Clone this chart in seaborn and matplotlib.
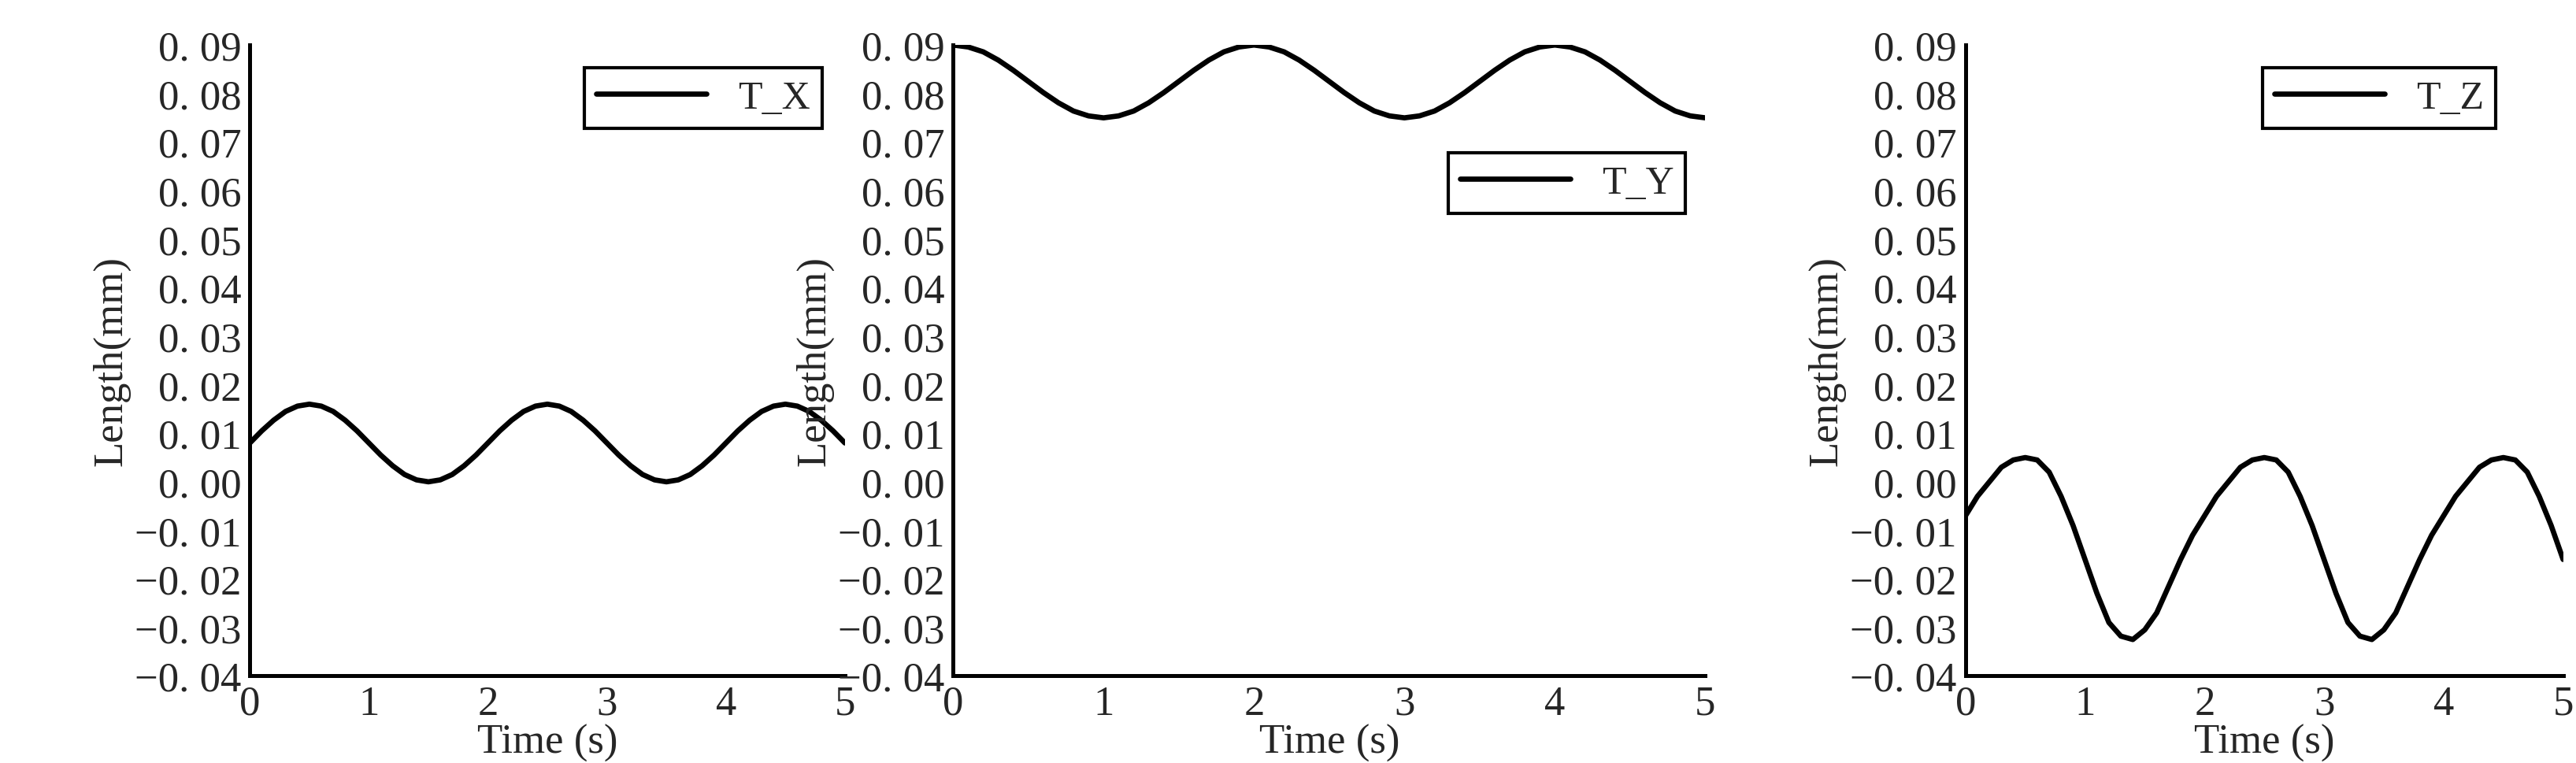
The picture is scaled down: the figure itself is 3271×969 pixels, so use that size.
import numpy as np
import pandas as pd
import matplotlib
matplotlib.use("Agg")
import matplotlib.pyplot as plt
import seaborn as sns
from matplotlib.ticker import FuncFormatter, MultipleLocator

# --- data (0.1 s steps, 0..5 s) ---
time_s = [round(0.1 * i, 1) for i in range(51)]

tx_period = [0.0080, 0.0105, 0.0127, 0.0145, 0.0156, 0.0160, 0.0156, 0.0145, 0.0127, 0.0105,
             0.0080, 0.0055, 0.0033, 0.0015, 0.0004, 0.0000, 0.0004, 0.0015, 0.0033, 0.0055]
ty_period = [0.0900, 0.0896, 0.0886, 0.0869, 0.0848, 0.0825, 0.0802, 0.0781, 0.0764, 0.0754,
             0.0750, 0.0754, 0.0764, 0.0781, 0.0802, 0.0825, 0.0848, 0.0869, 0.0886, 0.0896]
tz_period = [-0.0070, -0.0030, 0.0000, 0.0030, 0.0045, 0.0050, 0.0045, 0.0020, -0.0030, -0.0090,
             -0.0160, -0.0230, -0.0290, -0.0318, -0.0325, -0.0305, -0.0270, -0.0215, -0.0160, -0.0110]

T_X = tx_period * 2 + tx_period[:11]
T_Y = ty_period * 2 + ty_period[:11]
T_Z = tz_period * 2 + tz_period[:11]

series = [("T_X", T_X), ("T_Y", T_Y), ("T_Z", T_Z)]
legend_anchor = [(0.995, 0.995), (1.0, 0.86), (0.92, 0.995)]

sns.set_style("white")
plt.rcParams["font.family"] = ["Liberation Serif", "DejaVu Serif"]

fig = plt.figure(figsize=(16.355, 4.85), dpi=200)
lefts = [0.097, 0.370, 0.763]
widths = [0.231, 0.292, 0.232]

fmt = FuncFormatter(lambda v, p: ("\u2212" if v < -1e-9 else "") + "0. " + f"{abs(v):.2f}"[2:])

for (name, vals), l, w, anc in zip(series, lefts, widths, legend_anchor):
    ax = fig.add_axes([l, 0.114, w, 0.826])
    df = pd.DataFrame({"Time": time_s, "Length": vals})
    sns.lineplot(data=df, x="Time", y="Length", ax=ax, color="black", linewidth=2.4, label=name)
    ax.set_xlim(0, 5)
    ax.set_ylim(-0.04, 0.09)
    ax.xaxis.set_major_locator(MultipleLocator(1))
    ax.xaxis.set_minor_locator(MultipleLocator(0.5))
    ax.yaxis.set_major_locator(MultipleLocator(0.01))
    ax.yaxis.set_minor_locator(MultipleLocator(0.005))
    ax.yaxis.set_major_formatter(fmt)
    ax.tick_params(which="both", direction="in", labelsize=19, width=1.5, pad=4)
    ax.tick_params(which="major", length=8)
    ax.tick_params(which="minor", length=4)
    for s in ["top", "right"]:
        ax.spines[s].set_visible(False)
    for s in ["left", "bottom"]:
        ax.spines[s].set_linewidth(1.8)
        ax.spines[s].set_color("black")
    ax.set_xlabel("Time (s)", fontsize=19)
    ax.xaxis.set_label_coords(0.5, -0.075)
    ax.set_ylabel("Length(mm)", fontsize=19, labelpad=2)
    leg = ax.legend(loc="upper right", bbox_to_anchor=anc, fontsize=18, fancybox=False,
                    edgecolor="black", framealpha=1, handlelength=2.8, borderpad=0.3)
    leg.get_frame().set_linewidth(1.5)

fig.savefig("out.png", dpi=200)
